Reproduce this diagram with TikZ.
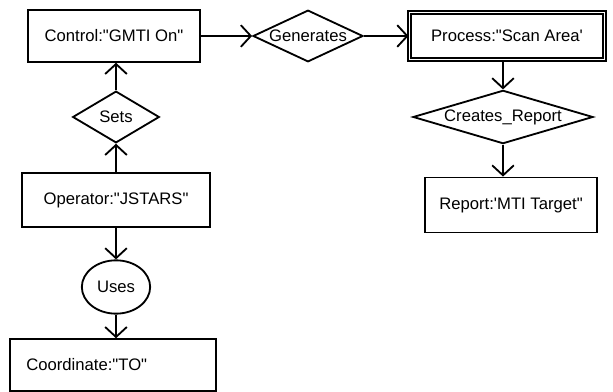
\documentclass[tikz,border=0pt]{standalone}
\usepackage{fontspec}
\setmainfont{Liberation Sans}[Ligatures=TeXOff]
\usetikzlibrary{arrows.meta}
\usetikzlibrary{shapes.geometric}
\tikzstyle{block} = [rectangle, minimum height=31pt, text centered, line width=1.1pt, draw=black, inner sep=2pt]
\tikzstyle{relation} = [diamond, minimum height=31pt, line width=1.1pt, draw=black, inner sep=0pt]
\tikzstyle{arrow} = [-{Straight Barb[length=6pt,width=13pt]}, line width=1.1pt]
\newcommand{\leftcol}{116}
\newcommand{\rightcol}{503}

\begin{document}
\begin{tikzpicture}[x=0.6pt, y=-0.6pt]

  %\draw[help lines] (0,0) grid (613,392);
  \useasboundingbox (0,0) rectangle (613,392);
  \coordinate (controlPos) at (114,36);
  \coordinate (generatesPos) at (308,36);
  \coordinate (processPos) at (507,36);
  \coordinate (createsPos) at (\rightcol,117);
  \coordinate (reportPos) at (511,205);
  \coordinate (setsPos) at (\leftcol,117);
  \coordinate (operatorPos) at (\leftcol,200);
  \coordinate (usesPos) at (\leftcol,287);
  \coordinate (coordinatePos) at (113,365);


  % Control
  \node [block, minimum width=103pt] (control) at (controlPos) {Control:"GMTI On"};


  % Generates
  \node [relation, minimum width=66pt, aspect=2.1] (generates) at (generatesPos) {Generates};


  % Process
  \node [block, minimum width=117pt, minimum height=28pt, line width=1.2pt, double, double distance=0.5pt] (process) at (processPos) {Process:"Scan Area'};


  % Creates_Report
  \node [relation, minimum width=108pt, minimum height=32pt, aspect=3.4] (creates) at (createsPos) {Creates\_Report};


  % Report
  \node [block, minimum width=103pt, minimum height=33pt] (report) at (reportPos) {Report:'MTI Target"};


  % Sets
  \node [relation, minimum width=52pt, aspect=1.7] (sets) at (setsPos) {Sets};


  % Operator
  \node [block, minimum width=113pt, minimum height=32pt] (operator) at (operatorPos) {Operator:"JSTARS"};


  % Uses
  \node [ellipse, draw=black, line width=1.1pt, minimum width=41pt, minimum height=32pt, inner sep=0pt] (uses) at (usesPos) {Uses};


  % Coordinate
  \node [block, minimum width=124pt, text width=104pt, inner xsep=10pt, align=left] (coordinate) at (coordinatePos) {Coordinate:"TO"};


  % Top row
  \draw [arrow] (control) -- (generates);
  \draw [arrow] (generates) -- (process);

  % Right column
  \draw [arrow] (process.south -| creates.north) -- (creates.north);
  \draw [arrow] (creates.south) -- (creates.south |- report.north);

  % Left column
  \draw [arrow] (operator.north) -- (sets.south);
  \draw [arrow] (sets.north) -- (sets.north |- control.south);
  \draw [arrow] (operator.south) -- (uses.north);
  \draw [arrow] (uses.south) -- (uses.south |- coordinate.north);

\end{tikzpicture}
\end{document}
